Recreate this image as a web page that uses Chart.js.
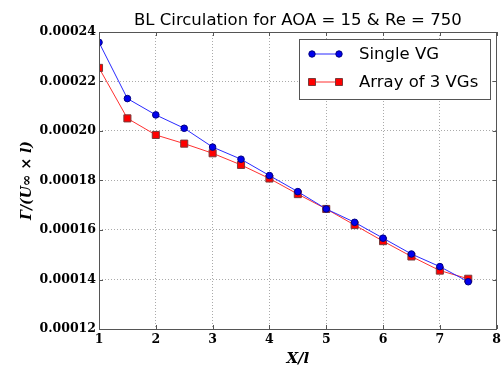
<!DOCTYPE html>
<html>
<head>
<meta charset="utf-8">
<script src="https://cdn.jsdelivr.net/npm/chart.js@4"></script>
<style>
  body { margin: 0; background: #fff; }
  canvas { display: block; }
</style>
</head>
<body>
<canvas id="chart" width="504" height="373"></canvas>
<script>
// x positions (X/l)
const xPos = [1, 1.5, 2, 2.5, 3, 3.5, 4, 4.5, 5, 5.5, 6, 6.5, 7, 7.5];
// circulation values
const singleVG = [0.0002358, 0.0002131, 0.0002065, 0.0002011, 0.0001935, 0.0001886, 0.0001820,
                  0.0001755, 0.0001685, 0.0001631, 0.0001567, 0.0001503, 0.0001452, 0.0001391];
const arrayVGs = [0.0002255, 0.0002051, 0.0001984, 0.0001949, 0.0001910, 0.0001863, 0.0001808,
                  0.0001745, 0.0001685, 0.0001620, 0.0001555, 0.0001493, 0.0001436, 0.0001403];
const yTicks = [0.00012, 0.00014, 0.00016, 0.00018, 0.00020, 0.00022, 0.00024];
const xTicks = [1, 2, 3, 4, 5, 6, 7, 8];

const toPoints = arr => arr.map((v, i) => ({ x: xPos[i], y: v }));

// frame, inside ticks, title and legend (matplotlib look)
const extras = {
  id: "extras",
  afterDraw(chart) {
    const ctx = chart.ctx;
    const a = chart.chartArea;
    const xs = chart.scales.x, ys = chart.scales.y;
    ctx.save();
    ctx.strokeStyle = "#555";
    ctx.lineWidth = 1;
    // inside ticks
    ctx.beginPath();
    xTicks.forEach(t => {
      const px = Math.round(xs.getPixelForValue(t)) + 0.5;
      ctx.moveTo(px, a.bottom); ctx.lineTo(px, a.bottom - 4);
      ctx.moveTo(px, a.top); ctx.lineTo(px, a.top + 4);
    });
    yTicks.forEach(t => {
      const py = Math.round(ys.getPixelForValue(t)) + 0.5;
      ctx.moveTo(a.left, py); ctx.lineTo(a.left + 4, py);
      ctx.moveTo(a.right, py); ctx.lineTo(a.right - 4, py);
    });
    ctx.stroke();
    ctx.strokeRect(Math.round(a.left) + 0.5, Math.round(a.top) + 0.5,
                   Math.round(a.right - a.left) - 1, Math.round(a.bottom - a.top));

    // title
    ctx.fillStyle = "#000";
    ctx.font = "16.5px 'DejaVu Sans'";
    ctx.textAlign = "center";
    ctx.textBaseline = "alphabetic";
    ctx.fillText("BL Circulation for AOA = 15 & Re = 750", (a.left + a.right) / 2, 25);

    // legend
    const bx = 299, by = 39, bw = 191, bh = 60;
    ctx.fillStyle = "#fff";
    ctx.fillRect(bx, by, bw, bh);
    ctx.strokeStyle = "#555";
    ctx.strokeRect(bx + 0.5, by + 0.5, bw, bh);
    chart.data.datasets.forEach((ds, i) => {
      const ly = 54 + i * 28;
      ctx.strokeStyle = ds.borderColor;
      ctx.lineWidth = 1;
      ctx.beginPath();
      ctx.moveTo(312, ly); ctx.lineTo(339, ly);
      ctx.stroke();
      [312, 339].forEach(mx => {
        ctx.fillStyle = ds.pointBackgroundColor;
        ctx.strokeStyle = ds.pointBorderColor;
        ctx.beginPath();
        if (ds.pointStyle === "rect") {
          ctx.rect(mx - 3.5, ly - 3.5, 7, 7);
        } else {
          ctx.arc(mx, ly, 3.2, 0, Math.PI * 2);
        }
        ctx.fill(); ctx.stroke();
      });
      ctx.fillStyle = "#000";
      ctx.font = "16.5px 'DejaVu Sans'";
      ctx.textAlign = "left";
      ctx.textBaseline = "middle";
      ctx.fillText(ds.label, 359, ly + 1);
    });
    ctx.restore();
  }
};

new Chart(document.getElementById("chart"), {
  type: "line",
  data: {
    datasets: [
      {
        label: "Single VG",
        data: toPoints(singleVG),
        borderColor: "#2a2aff",
        borderWidth: 1,
        pointStyle: "circle",
        pointRadius: 3.3,
        pointBackgroundColor: "#0000ee",
        pointBorderColor: "#000080",
        pointBorderWidth: 1,
        tension: 0
      },
      {
        label: "Array of 3 VGs",
        data: toPoints(arrayVGs),
        borderColor: "#ff3030",
        borderWidth: 1,
        pointStyle: "rect",
        pointRadius: 5,
        pointBackgroundColor: "#ff0000",
        pointBorderColor: "#7a3a3a",
        pointBorderWidth: 1,
        tension: 0
      }
    ]
  },
  options: {
    responsive: false,
    animation: false,
    layout: { padding: { top: 32, right: 5, left: 0, bottom: 0 } },
    plugins: {
      legend: { display: false },
      title: { display: false },
      tooltip: { enabled: false }
    },
    scales: {
      x: {
        type: "linear",
        min: 1,
        max: 8,
        afterFit: s => { s.height = 44; },
        afterBuildTicks: s => { s.ticks = xTicks.map(v => ({ value: v })); },
        ticks: {
          padding: 3,
          color: "#000",
          font: { family: "'DejaVu Serif'", weight: "bold", size: 12.5 },
          maxRotation: 0
        },
        grid: { color: "#aaa", borderDash: [1, 2], drawTicks: false },
        border: { display: false, dash: [1, 2] },
        title: {
          display: true,
          text: "X/l",
          color: "#000",
          font: { family: "'DejaVu Serif'", weight: "bold", style: "italic", size: 15 },
          padding: { top: 0, bottom: 5 }
        }
      },
      y: {
        min: 0.00012,
        max: 0.00024,
        afterFit: s => { s.width = 99; },
        afterBuildTicks: s => { s.ticks = yTicks.map(v => ({ value: v })); },
        ticks: {
          padding: 3,
          color: "#000",
          font: { family: "'DejaVu Serif'", weight: "bold", size: 12.5 },
          callback: v => v.toFixed(5)
        },
        grid: { color: "#aaa", borderDash: [1, 2], drawTicks: false },
        border: { display: false, dash: [1, 2] },
        title: {
          display: true,
          text: "Γ/(U∞ × l)",
          color: "#000",
          font: { family: "'DejaVu Serif'", weight: "bold", style: "italic", size: 14 },
          padding: { top: 19, bottom: 0 }
        }
      }
    }
  },
  plugins: [extras]
});
</script>
</body>
</html>
